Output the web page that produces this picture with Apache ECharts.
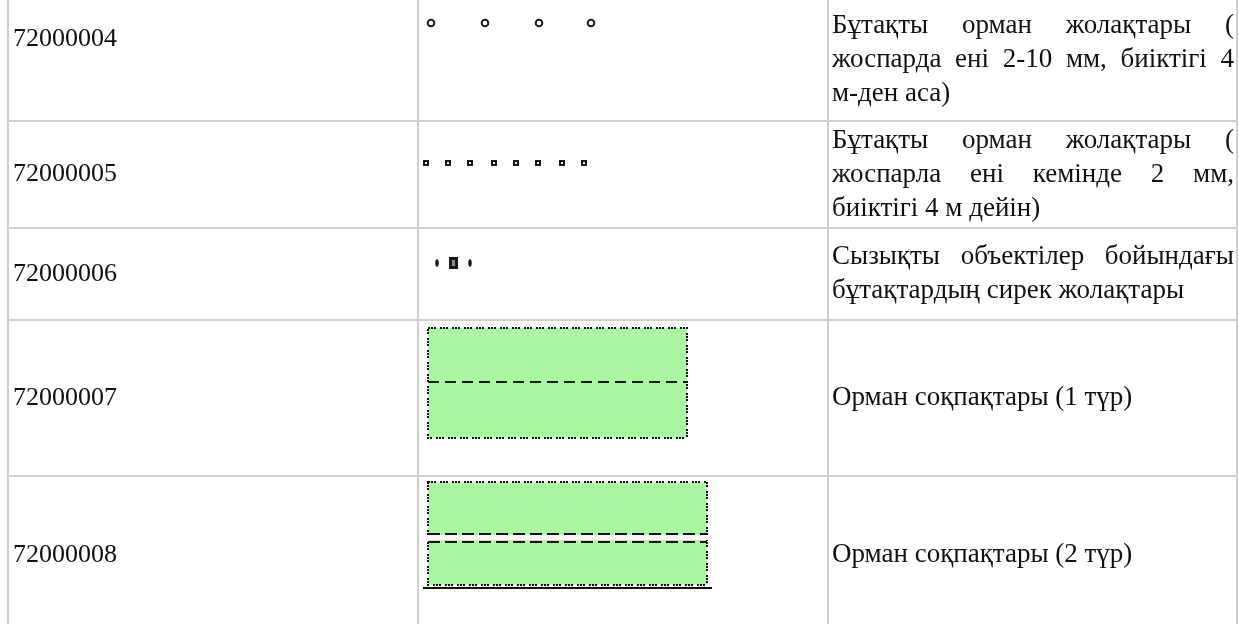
<!DOCTYPE html>
<html>
<head>
<meta charset="utf-8">
<script src="https://cdn.jsdelivr.net/npm/echarts@6/dist/echarts.min.js"></script>
<style>
html,body{margin:0;padding:0;background:#fff;}
#c{width:1239px;height:624px;}
</style>
</head>
<body>
<div id="c"></div>
<script>
// ---------- data ----------
const codes = ['72000004', '72000005', '72000006', '72000007', '72000008'];
const descriptions = [
  ['Бұтақты орман жолақтары (', 'жоспарда ені 2-10 мм, биіктігі 4', 'м-ден аса)'],
  ['Бұтақты орман жолақтары (', 'жоспарла ені кемінде 2 мм,', 'биіктігі 4 м дейін)'],
  ['Сызықты объектілер бойындағы', 'бұтақтардың сирек жолақтары'],
  ['Орман соқпақтары (1 түр)'],
  ['Орман соқпақтары (2 түр)']
];
const symbolKinds = ['circles', 'squares', 'sparse', 'path1', 'path2'];
const symbolCounts = [4, 8, 1, 1, 1];

// ---------- layout ----------
const W = 1239, H = 624;
const colLines = [8, 418, 828, 1237];
const rowLines = [-43, 121, 228, 320, 476, 634];
const CODE_FONT = '26px "Liberation Serif", "Times New Roman", serif';
const DESC_FONT = '27px "Liberation Serif", "Times New Roman", serif';
const LINE_H = 34;
const BORDER = '#cfcfcf';
const GREEN = '#abf6a3';
const INK = '#111';

const meas = document.createElement('canvas').getContext('2d');
meas.font = DESC_FONT;
function tw(s) { return meas.measureText(s).width; }

const chart = echarts.init(document.getElementById('c'), null, {renderer: 'canvas', width: W, height: H});
const g = [];

function txt(s, x, y, font) {
  g.push({type: 'text', silent: true, style: {
    text: s, x: x, y: y, font: font, fill: INK,
    align: 'left', verticalAlign: 'middle',
    textAlign: 'left', textVerticalAlign: 'middle'
  }});
}
function line(x1, y1, x2, y2, stroke, lw, dash) {
  g.push({type: 'line', silent: true, shape: {x1, y1, x2, y2},
    style: {stroke, lineWidth: lw, lineDash: dash || null}});
}
function rect(x, y, w, h, style) {
  g.push({type: 'rect', silent: true, shape: {x, y, width: w, height: h}, style});
}

// borders
colLines.forEach(x => line(x, -60, x, H + 10, BORDER, 2));
rowLines.slice(1, -1).forEach(y => line(colLines[0], y, colLines[3], y, BORDER, 2));

// code column
codes.forEach((c, i) => {
  const cy = (rowLines[i] + rowLines[i + 1]) / 2;
  txt(c, colLines[0] + 5, cy, CODE_FONT);
});

// description column (justified like the source)
const dx0 = colLines[2] + 4, dx1 = colLines[3] - 3;
descriptions.forEach((lines, i) => {
  let top = rowLines[i], bot = rowLines[i + 1];
  if (i === 0) top = -1;
  const cy = (top + bot) / 2;
  lines.forEach((ln, k) => {
    const y = cy + (k - (lines.length - 1) / 2) * LINE_H;
    const last = k === lines.length - 1;
    const words = ln.split(' ');
    if (last || words.length < 2) { txt(ln, dx0, y, DESC_FONT); return; }
    const total = words.reduce((a, w) => a + tw(w), 0);
    const gap = Math.max(3, (dx1 - dx0 - total) / (words.length - 1));
    let x = dx0;
    words.forEach(w => { txt(w, x, y, DESC_FONT); x += tw(w) + gap; });
  });
});

// symbol column
const sx = colLines[1];
symbolKinds.forEach((kind, i) => {
  if (kind === 'circles') {
    const offs = [13, 67, 121, 173];
    for (let k = 0; k < symbolCounts[i]; k++) {
      g.push({type: 'circle', silent: true, shape: {cx: sx + offs[k], cy: 23, r: 3.3},
        style: {fill: '#fff', stroke: '#1a1a1a', lineWidth: 2}});
    }
  } else if (kind === 'squares') {
    const offs = [8, 30, 52, 76, 98, 120, 144, 166];
    for (let k = 0; k < symbolCounts[i]; k++) {
      rect(sx + offs[k] - 3, 160, 6, 6, {fill: '#1a1a1a'});
      rect(sx + offs[k] - 1, 162, 2, 2, {fill: '#eee'});
    }
  } else if (kind === 'sparse') {
    const y = 263;
    g.push({type: 'ellipse', silent: true, shape: {cx: sx + 19, cy: y, rx: 1.8, ry: 3.8}, style: {fill: '#1a1a1a'}});
    rect(sx + 31, y - 6, 9, 12, {fill: '#1a1a1a'});
    rect(sx + 34, y - 3, 3, 6, {fill: '#888'});
    g.push({type: 'ellipse', silent: true, shape: {cx: sx + 52, cy: y, rx: 1.8, ry: 3.8}, style: {fill: '#1a1a1a'}});
  } else if (kind === 'path1') {
    const x0 = sx + 10, x1 = sx + 269, y0 = 328, y1 = 438, ym = 382;
    rect(x0, y0, x1 - x0, y1 - y0, {fill: GREEN, stroke: INK, lineWidth: 2, lineDash: [2, 1, 2, 1, 2, 4]});
    line(x0, ym, x1, ym, INK, 2, [11, 6]);
  } else if (kind === 'path2') {
    const x0 = sx + 10, x1 = sx + 289, y0 = 482, y1 = 585;
    rect(x0, y0, x1 - x0, y1 - y0, {fill: GREEN, stroke: INK, lineWidth: 2, lineDash: [2, 1, 2, 1, 2, 4]});
    rect(x0 - 2, 535, x1 - x0 + 6, 5, {fill: '#fdf4fb'});
    line(x0, 534, x1, 534, INK, 2, [12, 5]);
    line(x0, 542, x1, 542, INK, 2, [12, 5]);
    line(sx + 5, 588, sx + 294, 588, INK, 2);
  }
});

chart.setOption({animation: false, backgroundColor: '#fff', graphic: {elements: g}});
</script>
</body>
</html>
